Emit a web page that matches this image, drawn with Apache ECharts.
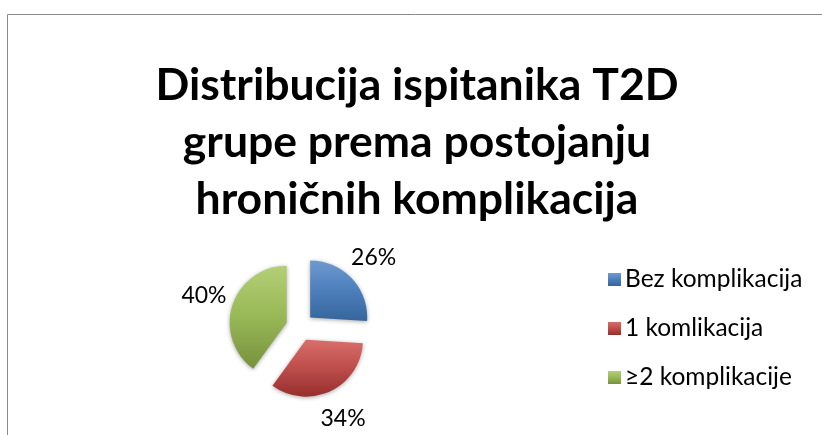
<!DOCTYPE html>
<html>
<head>
<meta charset="utf-8">
<script src="https://cdn.jsdelivr.net/npm/echarts@6/dist/echarts.min.js"></script>
<style>
html,body{margin:0;padding:0;background:#fff;}
#chart{width:822px;height:435px;}
</style>
</head>
<body>
<div id="chart"></div>
<script>
var titleText = 'Distribucija ispitanika T2D\ngrupe prema postojanju\nhroničnih komplikacija';
var categories = ['Bez komplikacija', '1 komlikacija', '≥2 komplikacije'];
var values = [26, 34, 40];
var baseColors = ['#4F81BD', '#C0504D', '#9BBB59'];
var lightColors = ['#6f9ad0', '#d86e6b', '#b3cf76'];
var darkColors = ['#36659c', '#962f2d', '#76923c'];

function grad(i) {
  return new echarts.graphic.LinearGradient(0, 0, 0, 1, [
    {offset: 0, color: lightColors[i]},
    {offset: 0.45, color: baseColors[i]},
    {offset: 1, color: darkColors[i]}
  ]);
}

var chart = echarts.init(document.getElementById('chart'));
var pieData = categories.map(function (c, i) {
  return {name: c, value: values[i], selected: true, itemStyle: {color: grad(i)}};
});
var labelData = categories.map(function (c, i) {
  return {name: c, value: values[i]};
});

chart.setOption({
  animation: false,
  legend: {
    orient: 'vertical',
    left: 603,
    top: 262,
    icon: 'rect',
    itemWidth: 13,
    itemHeight: 13,
    itemGap: 24,
    data: categories,
    selectedMode: false,
    textStyle: {fontFamily: 'Lato', fontSize: 24.5, lineHeight: 22, color: '#000', padding: [0, 0, 0, -1]}
  },
  graphic: [{
    type: 'rect', left: 5, top: 12, silent: true,
    shape: {width: 900, height: 600},
    style: {fill: 'none', stroke: '#8a8a8a', lineWidth: 1}
  }, {
    type: 'text', x: 417, y: 57, silent: true,
    style: {
      text: titleText, fill: '#000',
      fontFamily: 'Lato', fontWeight: 'bold', fontSize: 44.5, lineHeight: 57,
      align: 'center', verticalAlign: 'top'
    }
  }],
  series: [{
    type: 'pie',
    center: [300, 327],
    radius: 57,
    startAngle: 90,
    clockwise: true,
    selectedMode: 'multiple',
    selectedOffset: 14,
    label: {show: false},
    labelLine: {show: false},
    emphasis: {disabled: true},
    itemStyle: {shadowBlur: 4, shadowColor: 'rgba(0,0,0,0.35)', shadowOffsetY: 1},
    data: pieData
  }, {
    type: 'pie',
    center: [300, 327],
    radius: [88, 108],
    startAngle: 90,
    clockwise: true,
    silent: true,
    emphasis: {disabled: true},
    itemStyle: {color: 'rgba(0,0,0,0)'},
    label: {
      show: true,
      position: 'inside',
      formatter: function (p) { return p.value + '%'; },
      fontFamily: 'Lato',
      fontSize: 23,
      color: '#000'
    },
    labelLine: {show: false},
    data: labelData
  }]
});
</script>
</body>
</html>
